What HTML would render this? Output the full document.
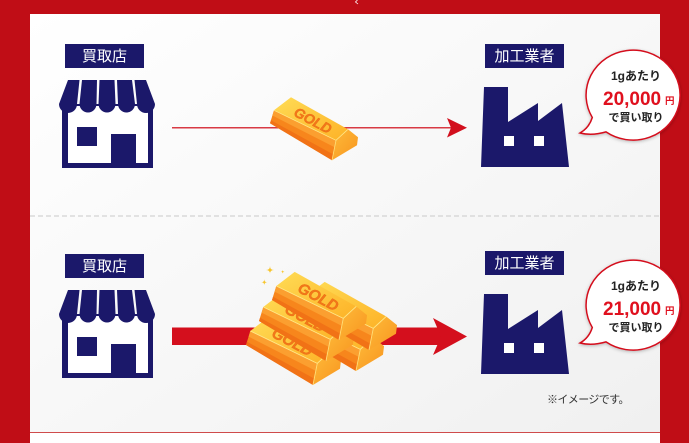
<!DOCTYPE html>
<html>
<head>
<meta charset="utf-8">
<style>
  html,body{margin:0;padding:0;background:#c00d16;}
  svg{display:block;}
  text{font-family:"Liberation Sans","Noto Sans CJK JP",sans-serif;}
</style>
</head>
<body>
<svg width="689" height="443" viewBox="0 0 689 443" xmlns="http://www.w3.org/2000/svg">
  <defs>
    <linearGradient id="bg" x1="0" y1="0" x2="1" y2="1">
      <stop offset="0" stop-color="#ffffff"/>
      <stop offset="1" stop-color="#f0f0f0"/>
    </linearGradient>
    <linearGradient id="gtop" x1="0" y1="0" x2="1" y2="1">
      <stop offset="0" stop-color="#ffdc55"/>
      <stop offset="1" stop-color="#fdb227"/>
    </linearGradient>
    <linearGradient id="gend" x1="0" y1="0" x2="1" y2="1">
      <stop offset="0" stop-color="#fdbb3a"/>
      <stop offset="1" stop-color="#f9951f"/>
    </linearGradient>
    <filter id="sh" x="-20%" y="-20%" width="140%" height="140%">
      <feDropShadow dx="0" dy="1" stdDeviation="1.5" flood-color="#000" flood-opacity="0.25"/>
    </filter>
    <g id="bar">
      <path d="M0,0 L4,-13 L66,17 L62,37 Z" fill="#f7861c"/>
      <path d="M4,-13 L66,17 L64.6,24 L2.4,-7.8 Z" fill="#fb9f30"/>
      <path d="M1,-3 L63,31 L62,37 L0,0 Z" fill="#f17216"/>
      <path d="M4,-13 L21,-26 L78,6 L66,17 Z" fill="url(#gtop)"/>
      <path d="M66,17 L78,6 L88,14 L87,22 L62,37 Z" fill="url(#gend)"/>
      <path d="M4,-13 L66,17 L78,6" fill="none" stroke="#ffe88a" stroke-width="0.8"/>
      <path d="M66,17 L62,37" fill="none" stroke="#ffe07a" stroke-width="0.8"/>
    </g>
    <g id="store" fill="#1b186a">
      <rect x="62" y="104" width="91" height="64"/>
      <rect x="68" y="106" width="80" height="57" fill="#ffffff"/>
      <path d="M68,80 L79.5,80 L77,104 A9,9 0 0 1 59,104 Z"/>
      <path d="M82,80 L97,80 L96.5,104 A8.5,8.5 0 0 1 79.5,104 Z"/>
      <path d="M99.5,80 L114.5,80 L115.5,104 A8.5,8.5 0 0 1 98.5,104 Z"/>
      <path d="M117,80 L132,80 L135,104 A8.5,8.5 0 0 1 118,104 Z"/>
      <path d="M134.5,80 L146,80 L155,104 A9,9 0 0 1 137,104 Z"/>
      <rect x="77" y="127" width="20" height="19"/>
      <rect x="111" y="134" width="25" height="34"/>
    </g>
    <g id="factory">
      <path d="M484,87 L508,87 L508,122 L538,103 L538,121 L562,103 L569,167 L481,167 Z" fill="#1b186a"/>
      <rect x="504" y="136" width="10" height="10" fill="#ffffff"/>
      <rect x="534" y="136" width="10" height="10" fill="#ffffff"/>
    </g>
    <path id="bubble" d="M592.3,117.5 A47,45 0 1 1 606,131.9 Q592,136 580,133 Q589,128 592.3,117.5 Z" fill="#ffffff" stroke="#d4101e" stroke-width="1.5"/>
  </defs>

  <!-- frame -->
  <rect x="0" y="0" width="689" height="443" fill="#c00d16"/>
  <rect x="30" y="14" width="630" height="419" fill="url(#bg)"/>
  <rect x="30" y="433" width="630" height="10" fill="#ffffff"/>
  <line x1="30" y1="432.5" x2="660" y2="432.5" stroke="#cf4b4b" stroke-width="1"/>
  <path d="M357.5,0 L355.5,2 L358,4" fill="none" stroke="#ffffff" stroke-width="0.8"/>
  <line x1="30" y1="216" x2="660" y2="216" stroke="#c9c9c9" stroke-width="1" stroke-dasharray="5 3"/>

  <!-- ===== TOP ROW ===== -->
  <rect x="65" y="44" width="79" height="24" fill="#1b186a"/>
  <text x="104.5" y="61" font-size="15" fill="#ffffff" text-anchor="middle">買取店</text>
  <use href="#store"/>

  <rect x="485" y="44" width="79" height="24" fill="#1b186a"/>
  <text x="524.5" y="61" font-size="15" fill="#ffffff" text-anchor="middle">加工業者</text>
  <use href="#factory"/>

  <line x1="172" y1="127.7" x2="451" y2="127.7" stroke="#d83a44" stroke-width="1.5"/>
  <path d="M447,118 L467,127.7 L447,137.5 L451,127.7 Z" fill="#d20f1d"/>

  <g transform="translate(270,123.3)">
    <use href="#bar"/>
    <text x="43" y="2" transform="rotate(28 43 -3)" font-size="14" font-weight="bold" font-style="italic" text-anchor="middle" fill="#f2771a" stroke="#e86a10" stroke-width="0.3">GOLD</text>
  </g>

  <g filter="url(#sh)"><use href="#bubble"/></g>
  <text x="636" y="80" font-size="12" font-weight="bold" fill="#222" text-anchor="middle">1gあたり</text>
  <text x="603" y="105" font-size="19" font-weight="bold" fill="#e0101e">20,000</text>
  <text x="665" y="104" font-size="9.5" font-weight="bold" fill="#e0101e">円</text>
  <text x="636" y="121" font-size="11" font-weight="bold" fill="#222" text-anchor="middle">で買い取り</text>

  <!-- ===== BOTTOM ROW ===== -->
  <rect x="65" y="254" width="79" height="24" fill="#1b186a"/>
  <text x="104.5" y="271" font-size="15" fill="#ffffff" text-anchor="middle">買取店</text>
  <use href="#store" transform="translate(0,210)"/>

  <rect x="485" y="251" width="79" height="24" fill="#1b186a"/>
  <text x="524.5" y="268" font-size="15" fill="#ffffff" text-anchor="middle">加工業者</text>
  <use href="#factory" transform="translate(0,207)"/>

  <rect x="172" y="327.5" width="270" height="17.5" fill="#d40f1d"/>
  <path d="M433,318 L467,336.5 L433,355 L441,336.5 Z" fill="#d40f1d"/>

  <!-- sparkles -->
  <path d="M270,266 Q270,270 274,270 Q270,270 270,274 Q270,270 266,270 Q270,270 270,266 Z" fill="#f7c52c"/>
  <path d="M282.7,269.7 Q282.7,271.7 284.7,271.7 Q282.7,271.7 282.7,273.7 Q282.7,271.7 280.7,271.7 Q282.7,271.7 282.7,269.7 Z" fill="#f7c52c"/>
  <path d="M264.3,279.3 Q264.3,282.3 267.3,282.3 Q264.3,282.3 264.3,285.3 Q264.3,282.3 261.3,282.3 Q264.3,282.3 264.3,279.3 Z" fill="#f7c52c"/>

  <!-- gold stack -->
  <g transform="translate(246,345) scale(1.08)">
    <use href="#bar"/>
    <text x="43" y="2" transform="rotate(28 43 -3)" font-size="14" font-weight="bold" font-style="italic" text-anchor="middle" fill="#f2771a" stroke="#e86a10" stroke-width="0.3">GOLD</text>
  </g>
  <g transform="translate(289,331) scale(1.08)">
    <use href="#bar"/>
  </g>
  <g transform="translate(259,321) scale(1.08)">
    <use href="#bar"/>
    <text x="43" y="2" transform="rotate(28 43 -3)" font-size="14" font-weight="bold" font-style="italic" text-anchor="middle" fill="#f2771a" stroke="#e86a10" stroke-width="0.3">GOLD</text>
  </g>
  <g transform="translate(302,310) scale(1.08)">
    <use href="#bar"/>
  </g>
  <g transform="translate(272,300) scale(1.08)">
    <use href="#bar"/>
    <text x="43" y="2" transform="rotate(28 43 -3)" font-size="14" font-weight="bold" font-style="italic" text-anchor="middle" fill="#f2771a" stroke="#e86a10" stroke-width="0.3">GOLD</text>
  </g>

  <g filter="url(#sh)"><use href="#bubble" transform="translate(0,210)"/></g>
  <text x="636" y="290" font-size="12" font-weight="bold" fill="#222" text-anchor="middle">1gあたり</text>
  <text x="603" y="315" font-size="19" font-weight="bold" fill="#e0101e">21,000</text>
  <text x="665" y="314" font-size="9.5" font-weight="bold" fill="#e0101e">円</text>
  <text x="636" y="331" font-size="11" font-weight="bold" fill="#222" text-anchor="middle">で買い取り</text>

  <text x="547" y="403" font-size="11" fill="#333" letter-spacing="-0.6">※イメージです。</text>
</svg>
</body>
</html>
